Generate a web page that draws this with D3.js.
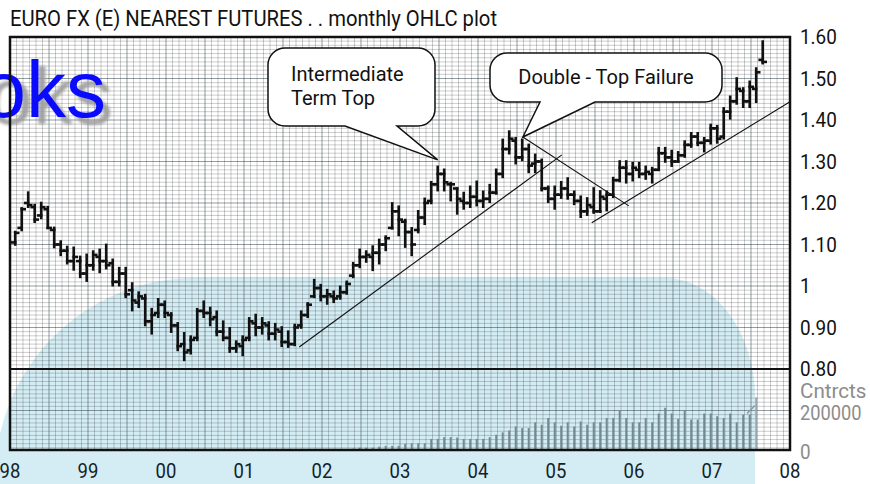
<!DOCTYPE html>
<html>
<head>
<meta charset="utf-8">
<script src="https://cdn.jsdelivr.net/npm/d3@7"></script>
<style>
  body { margin: 0; background: #fff; }
  svg { display: block; }
  .cond { font-family: Roboto, "Liberation Sans", sans-serif; }
</style>
</head>
<body>
<div id="chart"></div>
<script>
// Chart size
const width = 870;
const height = 484;

// Monthly OHLC values, month 0 = Jan 98
const opens = [
  1.105, 1.14, 1.20, 1.19, 1.17, 1.185, 1.135, 1.10, 1.085, 1.06,
  1.06, 1.03, 1.05, 1.07, 1.06, 1.055, 1.01, 1.03, 0.99, 0.96,
  0.97, 0.915, 0.935, 0.955, 0.93, 0.905, 0.86, 0.845, 0.875, 0.94,
  0.935, 0.925, 0.89, 0.875, 0.85, 0.855, 0.875, 0.91, 0.9, 0.905,
  0.885, 0.89, 0.865, 0.86, 0.905, 0.93, 0.975, 0.995, 0.975, 0.975,
  0.975, 0.985, 1.025, 1.05, 1.07, 1.07, 1.08, 1.10, 1.14, 1.18,
  1.155, 1.13, 1.135, 1.165, 1.205, 1.245, 1.27, 1.245, 1.235, 1.205,
  1.2, 1.215, 1.205, 1.21, 1.225, 1.27, 1.33, 1.35, 1.31, 1.33,
  1.295, 1.30, 1.235, 1.21, 1.22, 1.235, 1.22, 1.205, 1.18, 1.19,
  1.18, 1.21, 1.22, 1.255, 1.285, 1.27, 1.28, 1.27, 1.27, 1.28,
  1.32, 1.31, 1.30, 1.315, 1.34, 1.36, 1.345, 1.35, 1.38, 1.36,
  1.42, 1.445, 1.47, 1.445, 1.475, 1.545
];
const highs = [
  1.13, 1.187, 1.225, 1.195, 1.20, 1.19, 1.14, 1.107, 1.094, 1.092,
  1.07, 1.075, 1.083, 1.087, 1.099, 1.063, 1.043, 1.043, 1.006, 0.984,
  0.978, 0.944, 0.968, 0.962, 0.934, 0.91, 0.886, 0.878, 0.944, 0.962,
  0.947, 0.938, 0.914, 0.898, 0.866, 0.878, 0.922, 0.93, 0.922, 0.912,
  0.908, 0.90, 0.89, 0.906, 0.938, 0.958, 1.014, 1.002, 0.99, 0.986,
  0.998, 1.01, 1.055, 1.087, 1.083, 1.095, 1.111, 1.119, 1.199, 1.191,
  1.159, 1.139, 1.18, 1.21, 1.25, 1.287, 1.28, 1.248, 1.235, 1.224,
  1.239, 1.251, 1.227, 1.243, 1.28, 1.352, 1.372, 1.356, 1.352, 1.34,
  1.316, 1.304, 1.239, 1.239, 1.25, 1.259, 1.227, 1.215, 1.211, 1.235,
  1.228, 1.227, 1.26, 1.30, 1.30, 1.296, 1.296, 1.287, 1.284, 1.332,
  1.332, 1.325, 1.322, 1.348, 1.368, 1.368, 1.356, 1.388, 1.385, 1.428,
  1.456, 1.50, 1.476, 1.492, 1.524, 1.589
];
const lows = [
  1.10, 1.135, 1.191, 1.155, 1.164, 1.14, 1.094, 1.075, 1.055, 1.04,
  1.022, 1.013, 1.04, 1.034, 1.043, 1.002, 1.002, 0.974, 0.942, 0.95,
  0.906, 0.886, 0.926, 0.926, 0.89, 0.846, 0.822, 0.838, 0.87, 0.926,
  0.906, 0.882, 0.87, 0.842, 0.842, 0.834, 0.87, 0.882, 0.886, 0.872,
  0.872, 0.856, 0.854, 0.858, 0.90, 0.926, 0.974, 0.966, 0.958, 0.962,
  0.97, 0.982, 1.022, 1.046, 1.059, 1.039, 1.055, 1.087, 1.139, 1.123,
  1.095, 1.075, 1.13, 1.15, 1.20, 1.231, 1.231, 1.207, 1.175, 1.187,
  1.191, 1.195, 1.191, 1.203, 1.223, 1.263, 1.32, 1.296, 1.304, 1.275,
  1.275, 1.231, 1.203, 1.187, 1.213, 1.211, 1.198, 1.167, 1.172, 1.177,
  1.179, 1.183, 1.215, 1.253, 1.25, 1.255, 1.263, 1.259, 1.25, 1.28,
  1.30, 1.29, 1.30, 1.312, 1.336, 1.34, 1.325, 1.344, 1.346, 1.356,
  1.404, 1.44, 1.432, 1.432, 1.444, 1.537
];
const closes = [
  1.128, 1.185, 1.195, 1.16, 1.19, 1.14, 1.10, 1.085, 1.06, 1.07,
  1.03, 1.05, 1.075, 1.06, 1.05, 1.01, 1.03, 0.98, 0.965, 0.975,
  0.915, 0.93, 0.955, 0.935, 0.905, 0.855, 0.84, 0.87, 0.94, 0.935,
  0.92, 0.89, 0.875, 0.85, 0.86, 0.87, 0.915, 0.9, 0.91, 0.885,
  0.895, 0.865, 0.86, 0.9, 0.93, 0.955, 0.995, 0.975, 0.98, 0.97,
  0.985, 1.005, 1.05, 1.07, 1.075, 1.08, 1.10, 1.115, 1.18, 1.16,
  1.13, 1.10, 1.165, 1.20, 1.245, 1.27, 1.25, 1.245, 1.21, 1.2,
  1.215, 1.205, 1.21, 1.225, 1.27, 1.33, 1.355, 1.31, 1.33, 1.29,
  1.30, 1.235, 1.21, 1.22, 1.235, 1.22, 1.205, 1.18, 1.195, 1.18,
  1.215, 1.22, 1.255, 1.285, 1.27, 1.285, 1.27, 1.275, 1.28, 1.32,
  1.31, 1.30, 1.315, 1.34, 1.36, 1.345, 1.35, 1.38, 1.355, 1.42,
  1.445, 1.475, 1.445, 1.48, 1.515, 1.54
];

// Volume (contracts), starting at month 48
const volFirstMonth = 48;
const volumes = [
  4000, 4000, 4000, 5000, 7000, 12000, 12000, 12000, 17000, 21000,
  21000, 21000, 31000, 34000, 34000, 34000, 56000, 56000, 65000, 65000,
  63000, 56000, 56000, 56000, 56000, 65000, 77000, 89000, 99000, 119000,
  111000, 111000, 140000, 128000, 162000, 140000, 123000, 140000, 119000, 145000,
  128000, 140000, 140000, 162000, 162000, 201000, 162000, 140000, 140000, 162000,
  140000, 185000, 214000, 185000, 158000, 201000, 154000, 154000, 185000, 185000,
  171000, 162000, 185000, 140000, 179000, 179000
];
// partial last month (lighter) and its lead-in line
const volTail = [[113.4, 185000], [114.6, 225000]];
const volLast = [[114.8, 266000]];

// Axis labels
const yearLabels = ["98", "99", "00", "01", "02", "03", "04", "05", "06", "07", "08"];
const priceTicks = [0.8, 0.9, 1.0, 1.1, 1.2, 1.3, 1.4, 1.5, 1.6];
const priceLabels = ["0.80", "0.90", "1", "1.10", "1.20", "1.30", "1.40", "1.50", "1.60"];

// Trend lines and callout tips in [month, price]
const trendLines = [
  [[44.5, 0.853], [84.9, 1.316]],
  [[78.9, 1.359], [95.2, 1.193]],
  [[89.5, 1.1525], [120, 1.444]]
];
const callouts = [
  { lines: ["Intermediate", "Term Top"], box: [268, 48, 435, 126], base: [345, 397], tip: [65.8, 1.304] },
  { lines: ["Double - Top Failure"], box: [490, 53, 722, 102], base: [540, 595], tip: [78.9, 1.359] }
];

// Scales
const pLeft = 10, pRight = 790, pTop = 37, pBottom = 450, pSplit = 369;
const x = d3.scaleLinear().domain([0, 120]).range([pLeft, pRight]);
const y = d3.scaleLinear().domain([0.8, 1.6]).range([pSplit, pTop]);
const yv = d3.scaleLinear().domain([0, 200000]).range([pBottom, y(0.7)]);

// squeeze text horizontally (the original uses a condensed face)
function condense(sel, f) {
  sel.each(function() {
    const len = this.getComputedTextLength();
    d3.select(this).attr("textLength", len * f).attr("lengthAdjust", "spacingAndGlyphs");
  });
}

const svg = d3.select("#chart")
  .append("svg")
  .attr("width", width)
  .attr("height", height);

const defs = svg.append("defs");
defs.append("clipPath").attr("id", "plotClip")
  .append("rect").attr("x", pLeft).attr("y", pTop).attr("width", pRight - pLeft).attr("height", pBottom - pTop);
defs.append("filter").attr("id", "soft")
  .append("feGaussianBlur").attr("stdDeviation", 1.4);

// Light blue watermark shape behind everything
svg.append("path")
  .attr("d", "M -5,700 L -5,478 A 200 200 0 0 1 195,278 L 665,278 A 90 120 0 0 1 755,398 L 755,700 Z")
  .attr("fill", "#d4edf4");

// Graph paper grid
const grid = svg.append("g").attr("clip-path", "url(#plotClip)");
const hMinor = d3.range(60, 161).map(d => d / 100);
grid.selectAll(".hmin").data(hMinor).enter().append("line")
  .attr("x1", pLeft).attr("x2", pRight)
  .attr("y1", d => y(d)).attr("y2", d => y(d))
  .attr("stroke", d => Math.round(d * 100) % 10 === 0 ? "rgba(40,60,70,0.5)" : "rgba(0,0,0,0.2)")
  .attr("stroke-width", 1);
const vMinor = d3.range(0, 121);
grid.selectAll(".vmin").data(vMinor).enter().append("line")
  .attr("y1", pTop).attr("y2", pBottom)
  .attr("x1", d => x(d)).attr("x2", d => x(d))
  .attr("stroke", d => d % 6 === 0 ? "rgba(40,60,70,0.5)" : "rgba(0,0,0,0.2)")
  .attr("stroke-width", 1);

// "oks" watermark text with shadow
const wm = svg.append("g").attr("font-family", "'Liberation Sans', Arial, sans-serif")
  .attr("font-size", 80).attr("text-anchor", "end");
wm.append("text").attr("x", 113).attr("y", 124).attr("fill", "#9c9c9c")
  .attr("opacity", 0.9).attr("filter", "url(#soft)").text("oks");
wm.append("text").attr("x", 106).attr("y", 117).attr("fill", "#0a0aff").text("oks");

// Volume bars
const plot = svg.append("g").attr("clip-path", "url(#plotClip)");
plot.selectAll(".vol").data(volumes).enter().append("line")
  .attr("x1", (d, i) => x(volFirstMonth + i + 0.8))
  .attr("x2", (d, i) => x(volFirstMonth + i + 0.8))
  .attr("y1", yv(0)).attr("y2", d => yv(d))
  .attr("stroke", "#738990").attr("stroke-width", 2);
plot.append("path")
  .attr("d", d3.line().x(d => x(d[0])).y(d => yv(d[1]))(volTail))
  .attr("fill", "none").attr("stroke", "#8a9aa0").attr("stroke-width", 1.5);
plot.selectAll(".vlast").data(volLast).enter().append("line")
  .attr("x1", d => x(d[0])).attr("x2", d => x(d[0]))
  .attr("y1", yv(0)).attr("y2", d => yv(d[1]))
  .attr("stroke", "#9aa6aa").attr("stroke-width", 2);

// OHLC bars
const bars = plot.append("g").attr("stroke", "#111").attr("stroke-width", 2.6).attr("stroke-linecap", "square");
highs.forEach(function(h, i) {
  const cx = x(i + 0.8);
  bars.append("line").attr("x1", cx).attr("x2", cx).attr("y1", y(h)).attr("y2", y(lows[i]));
  bars.append("line").attr("x1", cx - 3).attr("x2", cx).attr("y1", y(opens[i])).attr("y2", y(opens[i]));
  bars.append("line").attr("x1", cx).attr("x2", cx + 3).attr("y1", y(closes[i])).attr("y2", y(closes[i]));
});

// Trend lines
svg.selectAll(".trend").data(trendLines).enter().append("line")
  .attr("x1", d => x(d[0][0])).attr("y1", d => y(d[0][1]))
  .attr("x2", d => x(d[1][0])).attr("y2", d => y(d[1][1]))
  .attr("stroke", "#111").attr("stroke-width", 1.1);

// Callout boxes
callouts.forEach(function(c) {
  const [x0, y0, x1, y1] = c.box, r = 17;
  const tx = x(c.tip[0]), ty = y(c.tip[1]);
  // bottom edge goes right -> left, tail inserted between base points
  const bRight = Math.max(c.base[0], c.base[1]), bLeft = Math.min(c.base[0], c.base[1]);
  const d = `M ${x0 + r},${y0} H ${x1 - r} A ${r} ${r} 0 0 1 ${x1},${y0 + r} V ${y1 - r} A ${r} ${r} 0 0 1 ${x1 - r},${y1}` +
    ` H ${bRight} L ${tx},${ty} L ${bLeft},${y1} H ${x0 + r} A ${r} ${r} 0 0 1 ${x0},${y1 - r} V ${y0 + r} A ${r} ${r} 0 0 1 ${x0 + r},${y0} Z`;
  svg.append("path").attr("d", d).attr("fill", "#fff").attr("stroke", "#111").attr("stroke-width", 1.5);
  const t = svg.append("text").attr("class", "cond").attr("font-size", 20).attr("fill", "#111");
  if (c.lines.length === 2) {
    t.attr("x", x0 + 23).attr("y", y0 + 33);
    t.append("tspan").attr("x", x0 + 23).attr("dy", 0).text(c.lines[0]);
    t.append("tspan").attr("x", x0 + 23).attr("dy", 24).text(c.lines[1]);
  } else {
    t.attr("x", (x0 + x1) / 2).attr("y", y0 + 31).attr("text-anchor", "middle").text(c.lines[0]);
  }
});

// Frame and panel divider
svg.append("rect").attr("x", pLeft).attr("y", pTop).attr("width", pRight - pLeft).attr("height", pBottom - pTop)
  .attr("fill", "none").attr("stroke", "#111").attr("stroke-width", 2.5);
svg.append("line").attr("x1", pLeft).attr("x2", pRight).attr("y1", pSplit).attr("y2", pSplit)
  .attr("stroke", "#111").attr("stroke-width", 2);

// Title
svg.append("text").attr("class", "cond").attr("x", 10).attr("y", 26)
  .attr("font-size", 22).attr("fill", "#111")
  .attr("textLength", 487).attr("lengthAdjust", "spacingAndGlyphs")
  .text("EURO FX (E) NEAREST FUTURES . . monthly OHLC plot");

// Price axis labels
svg.selectAll(".plab").data(priceTicks).enter().append("text")
  .attr("class", "cond").attr("x", 800).attr("y", d => y(d))
  .attr("dy", "0.34em").attr("font-size", 21).attr("fill", "#111")
  .text((d, i) => priceLabels[i])
  .call(condense, 0.9);

// Volume axis labels
const volLab = svg.append("g").attr("class", "cond").attr("font-size", 21).attr("fill", "#8c8c8c");
volLab.append("text").attr("x", 800).attr("y", (pSplit + yv(200000)) / 2 + 1).attr("dy", "0.36em").text("Cntrcts")
  .call(condense, 0.98);
volLab.append("text").attr("x", 800).attr("y", yv(200000)).attr("dy", "0.45em").text("200000")
  .call(condense, 0.87);
volLab.append("text").attr("x", 800).attr("y", yv(0)).attr("dy", "0.45em").text("0")
  .call(condense, 0.9);

// Year labels
svg.selectAll(".ylab").data(yearLabels).enter().append("text")
  .attr("class", "cond").attr("x", (d, i) => x(i * 12)).attr("y", 478)
  .attr("text-anchor", "middle").attr("font-size", 21).attr("fill", "#142228")
  .text(d => d)
  .call(condense, 0.88);
</script>
</body>
</html>
